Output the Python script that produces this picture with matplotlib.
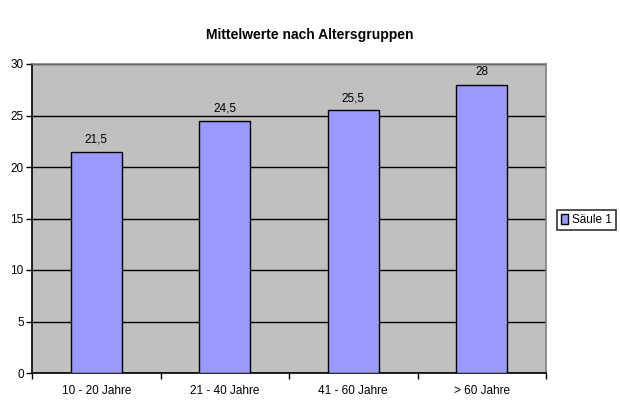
import matplotlib
matplotlib.use("Agg")
import matplotlib.pyplot as plt
import numpy as np

categories = ["10 - 20 Jahre", "21 - 40 Jahre", "41 - 60 Jahre", "> 60 Jahre"]
values = [21.5, 24.5, 25.5, 28]
value_labels = ["21,5", "24,5", "25,5", "28"]
series_name = "Säule 1"

plt.rcParams['font.family'] = ['Liberation Sans', 'DejaVu Sans']

fig = plt.figure(figsize=(6.2, 4.0), dpi=100)
ax = fig.add_axes([32/620, 27/400, 514/620, 309/400])
ax.set_facecolor('#C0C0C0')

x = np.arange(len(categories))
bars = ax.bar(x, values, width=0.4, color='#9999FF', edgecolor='black', linewidth=1.0,
              label=series_name, zorder=3)
for xi, v, lab in zip(x, values, value_labels):
    ax.text(xi, v + 0.6, lab, ha='center', va='bottom', fontsize=8.5, zorder=4)

ax.set_xlim(-0.5, len(categories) - 0.5)
ax.set_ylim(0, 30)
ax.set_yticks(range(0, 31, 5))
ax.yaxis.grid(True, color='black', linewidth=1.0, zorder=1)
ax.set_axisbelow(True)

ax.set_xticks(x)
ax.set_xticklabels(categories, fontsize=8.5)
ax.tick_params(axis='x', length=0, pad=9)
ax.set_xticks(np.arange(-0.5, len(categories)), minor=True)
ax.tick_params(axis='x', which='minor', length=4, width=1.0, direction='out', color='black')
ax.tick_params(axis='y', length=4, width=1.0, direction='out', labelsize=8.5, pad=2)

for s in ['left', 'bottom']:
    ax.spines[s].set_color('black')
    ax.spines[s].set_linewidth(1.2)
for s in ['top', 'right']:
    ax.spines[s].set_color('#808080')
    ax.spines[s].set_linewidth(1.2)

fig.text(0.5, 1 - 35/400, "Mittelwerte nach Altersgruppen", ha='center', va='center',
         fontsize=10, fontweight='bold')

leg = fig.legend(handles=[bars], labels=[series_name], loc='center left',
                 bbox_to_anchor=(557/620, 1 - 220/400), fontsize=8.5, frameon=True,
                 fancybox=False, edgecolor='black', handlelength=0.6, handleheight=0.9,
                 handletextpad=0.3, borderpad=0.35, borderaxespad=0)
leg.get_frame().set_linewidth(1.2)

fig.savefig("out.png", dpi=100)
